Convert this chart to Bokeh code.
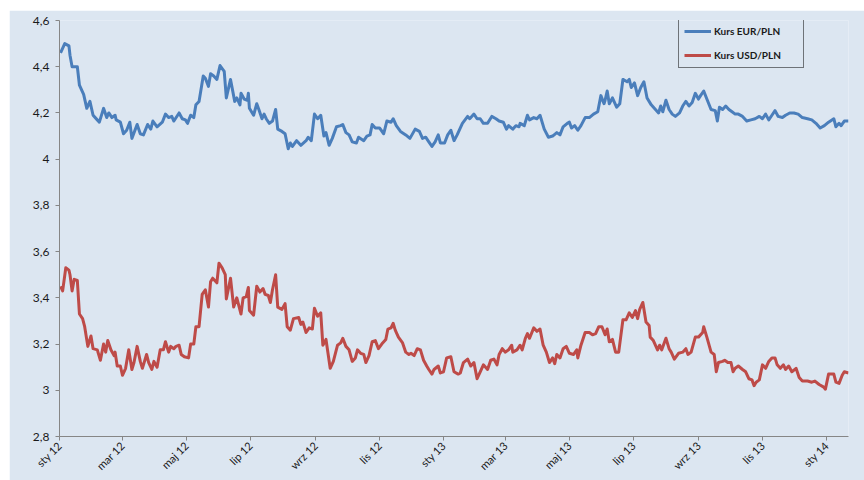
import math
import pandas as pd
from bokeh.plotting import figure
from bokeh.models import (ColumnDataSource, Range1d, FixedTicker, CustomJSTickFormatter,
                          Legend, LegendItem)
from bokeh.embed import file_html
from bokeh.resources import INLINE

# ---------------- data ----------------
eur_dates = [
    "2012-01-02", "2012-01-06", "2012-01-10", "2012-01-11", "2012-01-13", "2012-01-18", "2012-01-20",
    "2012-01-24", "2012-01-27", "2012-01-30", "2012-02-02", "2012-02-06", "2012-02-08", "2012-02-12",
    "2012-02-15", "2012-02-17", "2012-02-20", "2012-02-23", "2012-02-24", "2012-02-28", "2012-03-02",
    "2012-03-05", "2012-03-08", "2012-03-10", "2012-03-15", "2012-03-18", "2012-03-21", "2012-03-25",
    "2012-03-28", "2012-03-30", "2012-04-03", "2012-04-08", "2012-04-11", "2012-04-14", "2012-04-17",
    "2012-04-19", "2012-04-24", "2012-04-27", "2012-04-30", "2012-05-02", "2012-05-05", "2012-05-08",
    "2012-05-10", "2012-05-13", "2012-05-17", "2012-05-19", "2012-05-22", "2012-05-24", "2012-05-27",
    "2012-05-30", "2012-06-02", "2012-06-06", "2012-06-08", "2012-06-12", "2012-06-16", "2012-06-18",
    "2012-06-21", "2012-06-22", "2012-06-25", "2012-06-28", "2012-06-29", "2012-06-30", "2012-07-04",
    "2012-07-07", "2012-07-09", "2012-07-12", "2012-07-14", "2012-07-16", "2012-07-19", "2012-07-22",
    "2012-07-25", "2012-07-27", "2012-07-31", "2012-08-03", "2012-08-06", "2012-08-08", "2012-08-10",
    "2012-08-14", "2012-08-18", "2012-08-23", "2012-08-25", "2012-08-28", "2012-08-31", "2012-09-03",
    "2012-09-06", "2012-09-09", "2012-09-11", "2012-09-14", "2012-09-17", "2012-09-21", "2012-09-25",
    "2012-09-27", "2012-09-30", "2012-10-03", "2012-10-06", "2012-10-10", "2012-10-12", "2012-10-17",
    "2012-10-20", "2012-10-23", "2012-10-25", "2012-10-28", "2012-11-01", "2012-11-05", "2012-11-08",
    "2012-11-12", "2012-11-14", "2012-11-17", "2012-11-21", "2012-11-26", "2012-11-30", "2012-12-05",
    "2012-12-09", "2012-12-12", "2012-12-15", "2012-12-18", "2012-12-21", "2012-12-24", "2012-12-27",
    "2012-12-29", "2013-01-02", "2013-01-05", "2013-01-08", "2013-01-11", "2013-01-14", "2013-01-19",
    "2013-01-24", "2013-01-26", "2013-01-30", "2013-02-02", "2013-02-05", "2013-02-08", "2013-02-12",
    "2013-02-16", "2013-02-20", "2013-02-23", "2013-02-27", "2013-03-02", "2013-03-04", "2013-03-08",
    "2013-03-11", "2013-03-14", "2013-03-15", "2013-03-19", "2013-03-22", "2013-03-24", "2013-03-28",
    "2013-03-31", "2013-04-03", "2013-04-07", "2013-04-11", "2013-04-15", "2013-04-19", "2013-04-22",
    "2013-04-25", "2013-04-29", "2013-05-01", "2013-05-03", "2013-05-06", "2013-05-09", "2013-05-12",
    "2013-05-16", "2013-05-20", "2013-05-24", "2013-05-28", "2013-05-31", "2013-06-03", "2013-06-04",
    "2013-06-06", "2013-06-08", "2013-06-11", "2013-06-15", "2013-06-18", "2013-06-21", "2013-06-25",
    "2013-06-27", "2013-06-29", "2013-07-02", "2013-07-05", "2013-07-08", "2013-07-11", "2013-07-14",
    "2013-07-18", "2013-07-22", "2013-07-25", "2013-07-27", "2013-07-29", "2013-08-01", "2013-08-04",
    "2013-08-07", "2013-08-10", "2013-08-14", "2013-08-17", "2013-08-20", "2013-08-23", "2013-08-26",
    "2013-08-29", "2013-09-01", "2013-09-03", "2013-09-06", "2013-09-09", "2013-09-13", "2013-09-17",
    "2013-09-19", "2013-09-21", "2013-09-24", "2013-09-27", "2013-09-30", "2013-10-03", "2013-10-06",
    "2013-10-09", "2013-10-13", "2013-10-17", "2013-10-21", "2013-10-25", "2013-10-29", "2013-11-01",
    "2013-11-04", "2013-11-07", "2013-11-10", "2013-11-13", "2013-11-16", "2013-11-20", "2013-11-23",
    "2013-11-27", "2013-12-01", "2013-12-05", "2013-12-09", "2013-12-14", "2013-12-18", "2013-12-22",
    "2013-12-26", "2013-12-30", "2014-01-03", "2014-01-08", "2014-01-10", "2014-01-13", "2014-01-15",
    "2014-01-18", "2014-01-22",
]
eur_rates = [
    4.46, 4.50, 4.49, 4.45, 4.40, 4.40, 4.32,
    4.28, 4.22, 4.25, 4.19, 4.17, 4.16, 4.22,
    4.18, 4.20, 4.18, 4.19, 4.17, 4.16, 4.11,
    4.125, 4.16, 4.09, 4.15, 4.11, 4.105, 4.15,
    4.13, 4.165, 4.14, 4.16, 4.195, 4.18, 4.185,
    4.165, 4.20, 4.175, 4.17, 4.155, 4.19, 4.18,
    4.235, 4.25, 4.36, 4.35, 4.315, 4.37, 4.36,
    4.345, 4.405, 4.38, 4.265, 4.345, 4.25, 4.265,
    4.235, 4.285, 4.26, 4.255, 4.285, 4.22, 4.19,
    4.24, 4.215, 4.175, 4.195, 4.175, 4.155, 4.165,
    4.215, 4.13, 4.12, 4.11, 4.045, 4.07, 4.055,
    4.08, 4.06, 4.08, 4.095, 4.08, 4.195, 4.175,
    4.19, 4.10, 4.115, 4.06, 4.09, 4.14, 4.145,
    4.15, 4.115, 4.105, 4.075, 4.07, 4.095, 4.08,
    4.10, 4.105, 4.15, 4.135, 4.135, 4.11, 4.165,
    4.16, 4.175, 4.145, 4.12, 4.105, 4.09, 4.13,
    4.12, 4.09, 4.095, 4.075, 4.055, 4.075, 4.105,
    4.07, 4.07, 4.105, 4.125, 4.08, 4.105, 4.155,
    4.185, 4.175, 4.195, 4.175, 4.175, 4.155, 4.155,
    4.185, 4.175, 4.165, 4.16, 4.13, 4.145, 4.13,
    4.145, 4.14, 4.155, 4.145, 4.19, 4.17, 4.18,
    4.175, 4.19, 4.13, 4.095, 4.10, 4.115, 4.105,
    4.14, 4.155, 4.16, 4.135, 4.145, 4.125, 4.145,
    4.18, 4.18, 4.195, 4.205, 4.275, 4.24, 4.255,
    4.295, 4.24, 4.265, 4.225, 4.24, 4.345, 4.335,
    4.345, 4.31, 4.33, 4.275, 4.31, 4.335, 4.265,
    4.235, 4.215, 4.20, 4.23, 4.205, 4.255, 4.215,
    4.195, 4.185, 4.20, 4.23, 4.25, 4.23, 4.245,
    4.285, 4.26, 4.275, 4.295, 4.26, 4.215, 4.21,
    4.165, 4.225, 4.215, 4.23, 4.215, 4.205, 4.195,
    4.195, 4.185, 4.165, 4.17, 4.175, 4.185, 4.175,
    4.195, 4.17, 4.19, 4.21, 4.185, 4.18, 4.19,
    4.20, 4.20, 4.195, 4.18, 4.175, 4.17, 4.155,
    4.135, 4.145, 4.16, 4.175, 4.14, 4.155, 4.145,
    4.165, 4.165,
]

usd_dates = [
    "2012-01-02", "2012-01-04", "2012-01-07", "2012-01-10", "2012-01-11", "2012-01-13", "2012-01-15",
    "2012-01-18", "2012-01-20", "2012-01-23", "2012-01-25", "2012-01-28", "2012-01-31", "2012-02-02",
    "2012-02-06", "2012-02-09", "2012-02-12", "2012-02-14", "2012-02-16", "2012-02-19", "2012-02-22",
    "2012-02-23", "2012-02-25", "2012-02-28", "2012-03-01", "2012-03-04", "2012-03-07", "2012-03-10",
    "2012-03-12", "2012-03-15", "2012-03-18", "2012-03-20", "2012-03-24", "2012-03-26", "2012-03-29",
    "2012-03-31", "2012-04-03", "2012-04-06", "2012-04-09", "2012-04-11", "2012-04-14", "2012-04-16",
    "2012-04-19", "2012-04-21", "2012-04-24", "2012-04-26", "2012-04-29", "2012-05-03", "2012-05-05",
    "2012-05-08", "2012-05-10", "2012-05-13", "2012-05-16", "2012-05-19", "2012-05-22", "2012-05-24",
    "2012-05-26", "2012-05-30", "2012-06-01", "2012-06-04", "2012-06-07", "2012-06-08", "2012-06-12",
    "2012-06-15", "2012-06-18", "2012-06-22", "2012-06-24", "2012-06-27", "2012-06-29", "2012-06-30",
    "2012-07-04", "2012-07-07", "2012-07-10", "2012-07-13", "2012-07-15", "2012-07-18", "2012-07-20",
    "2012-07-22", "2012-07-25", "2012-07-27", "2012-07-31", "2012-08-03", "2012-08-05", "2012-08-08",
    "2012-08-11", "2012-08-16", "2012-08-18", "2012-08-20", "2012-08-23", "2012-08-26", "2012-08-29",
    "2012-08-31", "2012-09-03", "2012-09-06", "2012-09-08", "2012-09-11", "2012-09-15", "2012-09-18",
    "2012-09-22", "2012-09-25", "2012-09-27", "2012-09-30", "2012-10-03", "2012-10-06", "2012-10-09",
    "2012-10-11", "2012-10-14", "2012-10-17", "2012-10-19", "2012-10-22", "2012-10-25", "2012-10-28",
    "2012-10-31", "2012-11-04", "2012-11-07", "2012-11-09", "2012-11-12", "2012-11-14", "2012-11-16",
    "2012-11-19", "2012-11-23", "2012-11-26", "2012-11-29", "2012-12-01", "2012-12-04", "2012-12-07",
    "2012-12-10", "2012-12-13", "2012-12-16", "2012-12-18", "2012-12-21", "2012-12-23", "2012-12-27",
    "2012-12-29", "2013-01-01", "2013-01-04", "2013-01-08", "2013-01-11", "2013-01-15", "2013-01-17",
    "2013-01-20", "2013-01-24", "2013-01-27", "2013-01-30", "2013-02-02", "2013-02-05", "2013-02-08",
    "2013-02-12", "2013-02-15", "2013-02-18", "2013-02-21", "2013-02-23", "2013-02-26", "2013-03-01",
    "2013-03-04", "2013-03-07", "2013-03-08", "2013-03-12", "2013-03-15", "2013-03-17", "2013-03-20",
    "2013-03-22", "2013-03-24", "2013-03-28", "2013-03-31", "2013-04-03", "2013-04-06", "2013-04-09",
    "2013-04-12", "2013-04-15", "2013-04-17", "2013-04-19", "2013-04-22", "2013-04-25", "2013-04-28",
    "2013-05-01", "2013-05-05", "2013-05-08", "2013-05-09", "2013-05-12", "2013-05-16", "2013-05-20",
    "2013-05-23", "2013-05-26", "2013-05-29", "2013-06-01", "2013-06-04", "2013-06-06", "2013-06-08",
    "2013-06-11", "2013-06-14", "2013-06-17", "2013-06-21", "2013-06-24", "2013-06-27", "2013-06-30",
    "2013-07-03", "2013-07-05", "2013-07-07", "2013-07-10", "2013-07-13", "2013-07-16", "2013-07-17",
    "2013-07-20", "2013-07-24", "2013-07-26", "2013-07-28", "2013-08-01", "2013-08-04", "2013-08-06",
    "2013-08-09", "2013-08-13", "2013-08-17", "2013-08-20", "2013-08-22", "2013-08-25", "2013-08-29",
    "2013-09-01", "2013-09-05", "2013-09-06", "2013-09-09", "2013-09-13", "2013-09-16", "2013-09-18",
    "2013-09-20", "2013-09-24", "2013-09-26", "2013-09-29", "2013-10-02", "2013-10-04", "2013-10-06",
    "2013-10-09", "2013-10-13", "2013-10-16", "2013-10-19", "2013-10-22", "2013-10-24", "2013-10-26",
    "2013-10-29", "2013-11-01", "2013-11-04", "2013-11-07", "2013-11-10", "2013-11-13", "2013-11-15",
    "2013-11-18", "2013-11-21", "2013-11-23", "2013-11-26", "2013-11-29", "2013-12-03", "2013-12-06",
    "2013-12-09", "2013-12-14", "2013-12-18", "2013-12-21", "2013-12-25", "2013-12-29", "2013-12-31",
    "2014-01-03", "2014-01-08", "2014-01-10", "2014-01-13", "2014-01-16", "2014-01-18", "2014-01-22",
]
usd_rates = [
    3.45, 3.43, 3.53, 3.52, 3.50, 3.43, 3.48,
    3.475, 3.33, 3.31, 3.275, 3.19, 3.235, 3.18,
    3.175, 3.13, 3.20, 3.165, 3.215, 3.175, 3.15,
    3.165, 3.105, 3.105, 3.065, 3.095, 3.175, 3.09,
    3.12, 3.19, 3.125, 3.095, 3.155, 3.12, 3.09,
    3.125, 3.10, 3.175, 3.175, 3.21, 3.165, 3.19,
    3.18, 3.19, 3.195, 3.155, 3.145, 3.14, 3.20,
    3.20, 3.275, 3.275, 3.415, 3.435, 3.36, 3.47,
    3.485, 3.465, 3.55, 3.53, 3.50, 3.395, 3.485,
    3.36, 3.40, 3.33, 3.40, 3.405, 3.445, 3.345,
    3.325, 3.45, 3.425, 3.44, 3.415, 3.41, 3.38,
    3.435, 3.50, 3.36, 3.35, 3.375, 3.275, 3.26,
    3.31, 3.315, 3.285, 3.295, 3.25, 3.27, 3.265,
    3.355, 3.32, 3.335, 3.195, 3.22, 3.095, 3.125,
    3.195, 3.205, 3.225, 3.19, 3.175, 3.125, 3.14,
    3.175, 3.16, 3.155, 3.12, 3.15, 3.21, 3.215,
    3.18, 3.205, 3.22, 3.265, 3.27, 3.29, 3.26,
    3.23, 3.205, 3.165, 3.155, 3.16, 3.15, 3.18,
    3.175, 3.13, 3.105, 3.09, 3.07, 3.09, 3.105,
    3.075, 3.08, 3.14, 3.145, 3.08, 3.07, 3.075,
    3.12, 3.135, 3.105, 3.12, 3.05, 3.08, 3.11,
    3.09, 3.13, 3.135, 3.11, 3.155, 3.18, 3.165,
    3.175, 3.195, 3.165, 3.175, 3.195, 3.175, 3.225,
    3.245, 3.225, 3.27, 3.255, 3.265, 3.195, 3.165,
    3.12, 3.14, 3.115, 3.155, 3.14, 3.18, 3.19,
    3.16, 3.155, 3.175, 3.14, 3.195, 3.25, 3.25,
    3.24, 3.245, 3.275, 3.275, 3.24, 3.265, 3.21,
    3.22, 3.165, 3.165, 3.305, 3.305, 3.335, 3.315,
    3.345, 3.31, 3.35, 3.38, 3.295, 3.28, 3.23,
    3.215, 3.175, 3.195, 3.175, 3.225, 3.18, 3.165,
    3.135, 3.16, 3.165, 3.18, 3.155, 3.165, 3.23,
    3.23, 3.25, 3.275, 3.23, 3.165, 3.155, 3.08,
    3.12, 3.125, 3.13, 3.12, 3.12, 3.08, 3.095,
    3.105, 3.09, 3.08, 3.05, 3.045, 3.02, 3.035,
    3.045, 3.11, 3.095, 3.125, 3.14, 3.14, 3.11,
    3.095, 3.11, 3.09, 3.105, 3.08, 3.095, 3.055,
    3.04, 3.04, 3.035, 3.04, 3.025, 3.015, 3.005,
    3.07, 3.07, 3.035, 3.03, 3.065, 3.08, 3.075,
]

series_labels = ["Kurs EUR/PLN", "Kurs USD/PLN"]
x_tick_dates = ["2012-01-01", "2012-03-01", "2012-05-01", "2012-07-01", "2012-09-01", "2012-11-01",
                "2013-01-01", "2013-03-01", "2013-05-01", "2013-07-01", "2013-09-01", "2013-11-01",
                "2014-01-01"]
month_names_pl = ["sty", "lut", "mar", "kwi", "maj", "cze", "lip", "sie", "wrz", "paź", "lis", "gru"]
y_ticks = [2.8, 3.0, 3.2, 3.4, 3.6, 3.8, 4.0, 4.2, 4.4, 4.6]
x_start, x_end = "2012-01-01", "2014-01-22"
y_start, y_end = 2.8, 4.6

# ---------------- styling ----------------
BG = "#dce6f1"
BLUE = "#4a7ebb"
RED = "#be4b48"
AXIS = "#868686"
FONT = "Lato"

eur_src = ColumnDataSource(dict(x=pd.to_datetime(eur_dates), y=eur_rates))
usd_src = ColumnDataSource(dict(x=pd.to_datetime(usd_dates), y=usd_rates))

p = figure(width=855, height=470, output_backend="svg", toolbar_location=None,
           x_axis_type="datetime",
           x_range=Range1d(pd.Timestamp(x_start), pd.Timestamp(x_end)),
           y_range=Range1d(y_start, y_end),
           min_border_left=50, min_border_right=16, min_border_top=10, min_border_bottom=44)
p.margin = (10, 0, 0, 9)
p.background_fill_color = BG
p.border_fill_color = BG
p.outline_line_color = None
p.xgrid.grid_line_color = None
p.ygrid.grid_line_color = None

r_eur = p.line("x", "y", source=eur_src, line_color=BLUE, line_width=3, line_join="round")
r_usd = p.line("x", "y", source=usd_src, line_color=RED, line_width=3, line_join="round")

# axes
tick_ms = [pd.Timestamp(d).value / 1e6 for d in x_tick_dates]
p.xaxis.ticker = FixedTicker(ticks=tick_ms)
p.xaxis.formatter = CustomJSTickFormatter(args=dict(names=month_names_pl), code="""
    const d = new Date(tick);
    return names[d.getUTCMonth()] + ' ' + String(d.getUTCFullYear()).slice(2);
""")
p.xaxis.major_label_orientation = math.pi / 4
p.yaxis.ticker = FixedTicker(ticks=y_ticks)
p.yaxis.formatter = CustomJSTickFormatter(code="""
    const r = Math.round(tick);
    if (Math.abs(tick - r) < 1e-9) return String(r);
    return tick.toFixed(1).replace('.', ',');
""")
for ax in (p.xaxis[0], p.yaxis[0]):
    ax.axis_line_color = AXIS
    ax.axis_line_width = 1
    ax.major_tick_line_color = AXIS
    ax.major_tick_in = 0
    ax.major_tick_out = 4
    ax.minor_tick_line_color = None
    ax.major_label_text_font = FONT
    ax.major_label_text_color = "#1a1a1a"
p.yaxis.major_label_text_font_size = "12px"
p.xaxis.major_label_text_font_size = "11px"
p.yaxis.major_label_standoff = 6
p.xaxis.major_label_standoff = 3

legend = Legend(items=[LegendItem(label=series_labels[0], renderers=[r_eur]),
                       LegendItem(label=series_labels[1], renderers=[r_usd])],
                location=(619, 368), orientation="vertical")
legend.border_line_color = "black"
legend.border_line_width = 1
legend.background_fill_alpha = 0
legend.label_text_font = FONT
legend.label_text_font_style = "bold"
legend.label_text_font_size = "10px"
legend.label_text_color = "#1a1a1a"
legend.glyph_width = 27
legend.glyph_height = 14
legend.label_height = 14
legend.label_width = 84
legend.label_standoff = 3
legend.spacing = 10
legend.padding = 5
legend.margin = 0
p.add_layout(legend)

open("out.html", "w").write(file_html(p, INLINE))
